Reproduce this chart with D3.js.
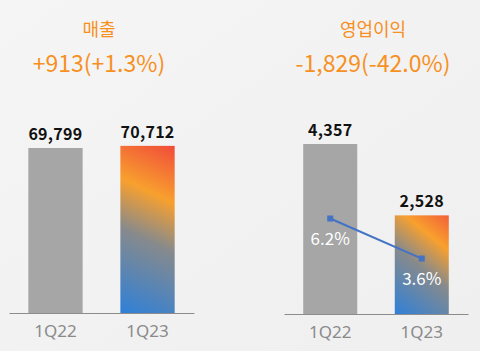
<!DOCTYPE html>
<html>
<head>
<meta charset="utf-8">
<script src="https://d3js.org/d3.v7.min.js"></script>
<style>
  body { margin: 0; background: #f3f3f3; }
  svg { display: block; font-family: "Noto Sans CJK KR", "Noto Sans", sans-serif; }
</style>
</head>
<body>
<script>
// data
const quarters = ["1Q22", "1Q23"];
const sales = [69799, 70712];
const opProfit = [4357, 2528];
const opMargin = [6.2, 3.6];
const titles = ["매출", "영업이익"];
const changes = ["+913(+1.3%)", "-1,829(-42.0%)"];

const width = 480, height = 351;
const orange = "#f7901e";

const svg = d3.select("body").append("svg")
    .attr("width", width)
    .attr("height", height);

// soft background
const defs = svg.append("defs");
const bg = defs.append("linearGradient").attr("id", "bg")
    .attr("x1", 0).attr("y1", 0).attr("x2", 1).attr("y2", 1);
bg.append("stop").attr("offset", 0).attr("stop-color", "#f5f5f5");
bg.append("stop").attr("offset", 1).attr("stop-color", "#efefef");
svg.append("rect").attr("width", width).attr("height", height).attr("fill", "url(#bg)");

// gradient for the current quarter bar, set in user space per bar
function barGradient(id, x0, x1, yTop, yBot) {
    let g = defs.append("linearGradient").attr("id", id)
        .attr("gradientUnits", "userSpaceOnUse")
        .attr("x1", x0).attr("y1", yBot)
        .attr("x2", x1 + 25).attr("y2", yTop);
    g.append("stop").attr("offset", 0).attr("stop-color", "#2f80d8");
    g.append("stop").attr("offset", 0.42).attr("stop-color", "#878a8c");
    g.append("stop").attr("offset", 0.66).attr("stop-color", "#f8a02e");
    g.append("stop").attr("offset", 1).attr("stop-color", "#ef3a3c");
}

function drawPanel(i, values, x, y, cx) {
    let g = svg.append("g");

    g.append("text")
        .attr("x", cx).attr("y", 36)
        .attr("text-anchor", "middle")
        .style("font-size", "18px")
        .style("fill", orange)
        .text(titles[i]);
    g.append("text")
        .attr("x", cx).attr("y", 72)
        .attr("text-anchor", "middle")
        .style("font-size", "23px")
        .style("fill", orange)
        .text(changes[i]);

    let rows = quarters.map((q, k) => ({q: q, v: values[k], k: k}));
    let base = y(0);

    rows.forEach(d => {
        if (d.k == 1) barGradient("grad" + i, x(d.q), x(d.q) + x.bandwidth(), y(d.v), base);
    });

    g.selectAll("rect.bar")
        .data(rows)
        .join("rect")
            .attr("class", "bar")
            .attr("x", d => x(d.q))
            .attr("y", d => y(d.v))
            .attr("width", x.bandwidth())
            .attr("height", d => base - y(d.v))
            .style("fill", d => d.k == 0 ? "#a6a6a6" : "url(#grad" + i + ")");

    g.selectAll("text.val")
        .data(rows)
        .join("text")
            .attr("class", "val")
            .attr("x", d => x(d.q) + x.bandwidth() / 2)
            .attr("y", d => y(d.v) - 8)
            .attr("text-anchor", "middle")
            .style("font-size", "16px")
            .style("font-weight", "bold")
            .style("letter-spacing", "0.3px")
            .style("fill", "#111")
            .text(d => d3.format(",")(d.v));

    let axis = g.append("g")
        .attr("transform", `translate(0,${base})`)
        .call(d3.axisBottom(x).tickSize(0).tickPadding(12).tickSizeOuter(0));
    axis.select(".domain").attr("stroke", "#8c8c8c");
    axis.selectAll("text")
        .style("font-size", "17px")
        .style("font-family", "\"Noto Sans\", sans-serif")
        .style("fill", "#8a8a8a");
    return g;
}

// left: sales
let xL = d3.scaleBand().domain(quarters).range([9, 194]).paddingInner(0.41).paddingOuter(0.21);
let yL = d3.scaleLinear().domain([0, 80000]).range([313, 313 - 189.1]);
drawPanel(0, sales, xL, yL, 99);

// right: operating profit with margin line
let xR = d3.scaleBand().domain(quarters).range([284, 468]).paddingInner(0.41).paddingOuter(0.21);
let yR = d3.scaleLinear().domain([0, 5000]).range([314, 314 - 195.1]);
let gR = drawPanel(1, opProfit, xR, yR, 373);

let yM = d3.scaleLinear().domain([0, 10]).range([314, 314 - 154]);
let pts = quarters.map((q, k) => ({q: q, m: opMargin[k]}));
let mx = d => xR(d.q) + xR.bandwidth() / 2;

gR.append("path")
    .datum(pts)
    .attr("d", d3.line().x(mx).y(d => yM(d.m)))
    .style("fill", "none")
    .style("stroke", "#4472c4")
    .style("stroke-width", 2);

gR.selectAll("rect.mk")
    .data(pts)
    .join("rect")
        .attr("class", "mk")
        .attr("x", d => mx(d) - 3)
        .attr("y", d => yM(d.m) - 3)
        .attr("width", 6)
        .attr("height", 6)
        .style("fill", "#4472c4");

gR.selectAll("text.pct")
    .data(pts)
    .join("text")
        .attr("class", "pct")
        .attr("x", d => mx(d))
        .attr("y", d => yM(d.m) + 26)
        .attr("text-anchor", "middle")
        .style("font-size", "17px")
        .style("fill", "#fff")
        .text(d => d.m.toFixed(1) + "%");
</script>
</body>
</html>
